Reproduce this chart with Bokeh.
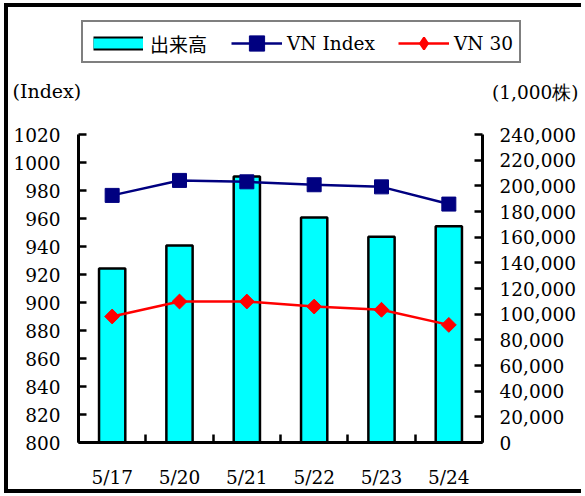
import numpy as np
from bokeh.plotting import figure
from bokeh.models import (Range1d, LinearAxis, FixedTicker, NumeralTickFormatter,
                          Legend, LegendItem, Label, ColumnDataSource)
from bokeh.core.properties import value
from bokeh.embed import file_html
from bokeh.resources import INLINE

# ---- data ----
dates = ["5/17", "5/20", "5/21", "5/22", "5/23", "5/24"]
volume = [135600, 153500, 207300, 175300, 160300, 168600]   # 1,000株
vn_index = [976.5, 987.2, 986.2, 984.1, 982.6, 970.3]
vn30 = [890.0, 900.7, 900.7, 897.1, 894.8, 884.0]
left_ticks = list(range(800, 1021, 20))
right_ticks = list(range(0, 240001, 20000))
series_names = ["出来高", "VN Index", "VN 30"]
unit_left = "(Index)"
unit_right = "(1,000株)"

SERIF = "DejaVu Serif"
CJK = "Noto Sans CJK JP"
W = 577
H1, H2 = 120, 370

n = len(dates)
xc = np.arange(n) + 0.5
src = ColumnDataSource(dict(x=xc, vol=volume, idx=vn_index, v30=vn30))

# ================= top strip: legend + unit labels =================
top = figure(width=W, height=H1, x_range=Range1d(0, W), y_range=Range1d(0, H1),
             x_axis_type=None, y_axis_type=None, output_backend="svg", toolbar_location=None,
             min_border_left=0, min_border_right=0, min_border_top=0, min_border_bottom=0,
             background_fill_color="white", border_fill_color="white")
top.outline_line_color = None
top.styles = {"margin-left": "4px", "margin-top": "3px",
              "border-left": "4px solid black", "border-top": "4px solid black"}

# legend proxies (their data falls outside this strip's ranges, so only the legend shows them)
box_r = top.line("x", "idx", source=src, line_alpha=0)
vol_out = top.line("x", "vol", source=src, line_color="black", line_width=14)
vol_in = top.line("x", "vol", source=src, line_color="#00FFFF", line_width=10)
idx_l = top.line("x", "idx", source=src, line_color="#000080", line_width=2.5)
idx_m = top.scatter("x", "idx", source=src, marker="square", fill_color="#000080", line_color="#000080")
v30_l = top.line("x", "v30", source=src, line_color="#FF0000", line_width=2.5)
v30_m = top.scatter("x", "v30", source=src, marker="diamond", line_width=2,
                    fill_color="#FF0000", line_color="#FF0000")

legA = Legend(items=[LegendItem(label=value(" "), renderers=[box_r])], location=(73, 64),
              glyph_width=436, glyph_height=39, label_width=0, label_height=0, label_standoff=0,
              padding=0, margin=0, spacing=0, border_line_color="black", border_line_width=2.5,
              background_fill_color="white", background_fill_alpha=1,
              label_text_font_size="10px")
top.add_layout(legA, "center")

def mk_leg(label, rends, loc, gw, gh, font, size, standoff):
    lg = Legend(items=[LegendItem(label=value(label), renderers=rends)], location=loc,
                glyph_width=gw, glyph_height=gh, label_standoff=standoff, label_height=gh,
                padding=0, margin=0, spacing=0, border_line_color=None,
                background_fill_alpha=0, label_text_font=font, label_text_font_size=size,
                label_text_color="black")
    top.add_layout(lg, "center")

mk_leg(series_names[0], [vol_out, vol_in], (85, 70), 50, 28, CJK, "19px", 7)
mk_leg(series_names[1], [idx_l, idx_m], (223, 65), 51, 38, SERIF, "18.5px", 5)
mk_leg(series_names[2], [v30_l, v30_m], (390, 69), 51, 30, SERIF, "18.5px", 5)

top.add_layout(Label(x=4, y=37, x_units="screen", y_units="screen", text=unit_left,
                     text_font=SERIF, text_font_size="19px", text_baseline="middle",
                     text_align="left", text_color="black"))
top.add_layout(Label(x=W - 7, y=35, x_units="screen", y_units="screen", text=unit_right,
                     text_font=SERIF, text_font_size="18.5px", text_baseline="middle",
                     text_align="right", text_color="black"))

# ================= main chart =================
p = figure(width=W, height=H2, x_range=Range1d(0, n), y_range=Range1d(800, 1020),
           x_axis_type=None, y_axis_type=None,
           output_backend="svg", toolbar_location=None,
           min_border_left=70, min_border_right=103, min_border_top=11, min_border_bottom=51,
           background_fill_color="white", border_fill_color="white")
p.outline_line_color = None
p.styles = {"margin-left": "4px",
            "border-left": "4px solid black", "border-bottom": "4px solid black"}
p.extra_y_ranges = {"vol": Range1d(0, 240000)}

def style_axis(ax):
    ax.axis_line_width = 3
    ax.axis_line_color = "black"
    ax.major_tick_line_width = 2.5
    ax.major_tick_line_color = "black"
    ax.major_tick_in = 8
    ax.major_tick_out = 0
    ax.minor_tick_line_color = None
    ax.major_label_text_font = SERIF
    ax.major_label_text_font_size = "18.5px"
    ax.major_label_text_color = "black"

yl = LinearAxis(ticker=FixedTicker(ticks=left_ticks))
style_axis(yl)
yl.major_label_standoff = 18
p.add_layout(yl, "left")

yr = LinearAxis(y_range_name="vol", ticker=FixedTicker(ticks=right_ticks),
                formatter=NumeralTickFormatter(format="0,0"))
style_axis(yr)
yr.major_label_standoff = 17
p.add_layout(yr, "right")

xb = LinearAxis(ticker=FixedTicker(ticks=list(xc), minor_ticks=list(range(0, n + 1))))
style_axis(xb)
xb.major_tick_in = 0
xb.major_tick_line_color = None
xb.minor_tick_line_color = "black"
xb.minor_tick_line_width = 2.5
xb.minor_tick_in = 8
xb.minor_tick_out = 0
xb.major_label_standoff = 24
xb.major_label_overrides = {float(x): d for x, d in zip(xc, dates)}
p.add_layout(xb, "below")

p.vbar(x="x", top="vol", bottom=0, width=0.39, source=src, y_range_name="vol",
       fill_color="#00FFFF", line_color="black", line_width=2.5)
p.line("x", "idx", source=src, line_color="#000080", line_width=2.5)
p.scatter("x", "idx", source=src, marker="square", size=14, fill_color="#000080", line_color="#000080")
p.line("x", "v30", source=src, line_color="#FF0000", line_width=2.5)
p.scatter("x", "v30", source=src, marker="square", angle=np.pi / 4, size=10.5,
          fill_color="#FF0000", line_color="#FF0000")

open("out.html", "w").write(file_html([top, p], INLINE))
